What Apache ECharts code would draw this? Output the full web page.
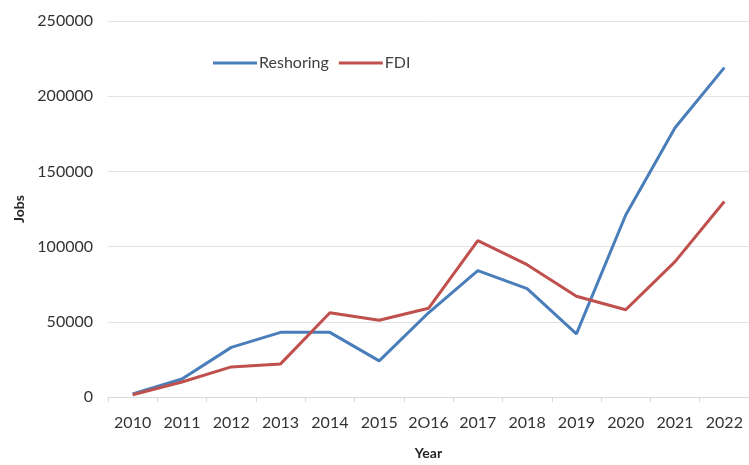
<!DOCTYPE html>
<html>
<head>
<meta charset="utf-8">
<script src="https://cdn.jsdelivr.net/npm/echarts@6/dist/echarts.min.js"></script>
<style>html,body{margin:0;padding:0;background:#fff;}#c{width:749px;height:465px;}</style>
</head>
<body>
<div id="c"></div>
<script>
var years = ['2010','2011','2012','2013','2014','2015','2O16','2017','2018','2019','2020','2021','2022'];
var reshoring = [2000, 12000, 33000, 43000, 43000, 24000, 56000, 84000, 72000, 42000, 121000, 179000, 219000];
var fdi = [1500, 10000, 20000, 22000, 56000, 51000, 59000, 104000, 88000, 67000, 58000, 90000, 130000];
var yTicks = [0, 50000, 100000, 150000, 200000, 250000];

var font = 'Lato, "Open Sans", sans-serif';
var chart = echarts.init(document.getElementById('c'));
chart.setOption({
  animation: false,
  backgroundColor: '#ffffff',
  grid: {left: 108, top: 21, bottom: 62, right: -5, containLabel: false},
  legend: {
    left: 208, top: 50,
    icon: 'rect', itemWidth: 44, itemHeight: 3, itemGap: 10,
    textStyle: {fontFamily: font, fontSize: 16, color: '#404040', padding: [0,0,0,-3]},
    data: ['Reshoring', 'FDI']
  },
  xAxis: {
    type: 'category', data: years, boundaryGap: true,
    name: 'Year', nameLocation: 'middle', nameGap: 49,
    nameTextStyle: {fontFamily: font, fontSize: 14, fontWeight: 'bold', color: '#262626'},
    axisLine: {lineStyle: {color: '#d9d9d9', width: 1}},
    axisTick: {show: true, length: 5, lineStyle: {color: '#d9d9d9'}},
    axisLabel: {fontFamily: font, fontSize: 16, color: '#333333', margin: 18, interval: 0}
  },
  yAxis: {
    type: 'value', min: yTicks[0], max: yTicks[yTicks.length-1], interval: 50000,
    name: 'Jobs', nameLocation: 'middle', nameGap: 80, nameRotate: 90,
    nameTextStyle: {fontFamily: font, fontSize: 14, fontWeight: 'bold', color: '#262626'},
    axisLine: {show: false}, axisTick: {show: false},
    axisLabel: {fontFamily: font, fontSize: 16, color: '#333333', margin: 15,
                formatter: function (v) { return String(v); }},
    splitLine: {lineStyle: {color: '#e3e3e3', width: 1}}
  },
  series: [
    {name: 'Reshoring', type: 'line', data: reshoring, symbol: 'none',
     color: '#4a7ebb', lineStyle: {width: 3, color: '#4a7ebb'}},
    {name: 'FDI', type: 'line', data: fdi, symbol: 'none',
     color: '#c0504d', lineStyle: {width: 3, color: '#c0504d'}}
  ]
});
</script>
</body>
</html>
